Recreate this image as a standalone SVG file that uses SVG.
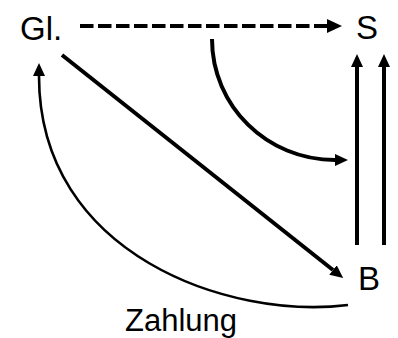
<svg xmlns="http://www.w3.org/2000/svg" width="398" height="338" viewBox="0 0 398 338">
<style>
.lbl{font-family:"Liberation Sans",Arial,sans-serif;font-size:33px;fill:#000}
.thick{fill:none;stroke:#000;stroke-width:4}
.thin{fill:none;stroke:#000;stroke-width:2.6}
</style>
<defs>
<marker id="ah" viewBox="0 0 13 12" refX="0" refY="6" markerWidth="13" markerHeight="12" markerUnits="userSpaceOnUse" orient="auto">
<path d="M0,0 L13,6 L0,12 Z" fill="#000"/>
</marker>
<marker id="ahb" viewBox="0 0 15 14" refX="0" refY="7" markerWidth="15" markerHeight="14" markerUnits="userSpaceOnUse" orient="auto">
<path d="M0,0 L15,7 L0,14 Z" fill="#000"/>
</marker>
</defs>
<rect width="398" height="338" fill="#fff"/>
<g id="connectors">
<path class="thick" d="M80,26 L327,26" stroke-width="4.6" stroke-dasharray="13.5,4.5" marker-end="url(#ahb)"/>
<path class="thick" d="M212,39 C212,106 267,160 335,160" marker-end="url(#ah)"/>
<path class="thick" d="M357,245 L357,67" marker-end="url(#ah)"/>
<path class="thick" d="M384,245 L384,67" marker-end="url(#ah)"/>
<path class="thick" d="M62,55 L333,270" marker-end="url(#ah)"/>
<path class="thin" d="M348,305 C230,320 39,255 39,76" marker-end="url(#ah)"/>
</g>
<g id="node-gl"><text class="lbl" x="20" y="40">Gl.</text></g>
<g id="node-s"><text class="lbl" x="356" y="39">S</text></g>
<g id="node-b"><text class="lbl" x="358" y="290">B</text></g>
<g id="label-zahlung"><text class="lbl" x="125" y="331" style="font-size:31px">Zahlung</text></g>
</svg>
